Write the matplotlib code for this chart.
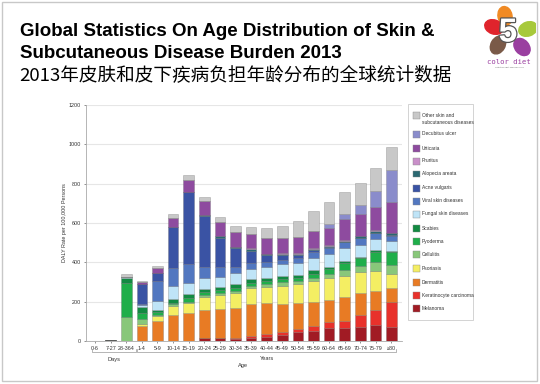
import matplotlib
matplotlib.use("Agg")
import matplotlib.pyplot as plt
import numpy as np
from matplotlib.patches import Rectangle, Ellipse
import matplotlib.patheffects as pe
from matplotlib import font_manager

categories = ["0-6", "7-27", "28-364", "1-4", "5-9", "10-14", "15-19", "20-24", "25-29",
              "30-34", "35-39", "40-44", "45-49", "50-54", "55-59", "60-64", "65-69",
              "70-74", "75-79", "≥80"]

melanoma   = [0, 0, 0, 0, 0, 0, 2, 17, 14, 12, 17, 22, 31, 44, 51, 64, 64, 73, 81, 71]
keratinocyte = [0, 0, 0, 0, 0, 0, 0, 0, 0, 5, 10, 12, 13, 15, 25, 31, 38, 59, 77, 126]
dermatitis = [0, 0, 0, 76, 103, 132, 142, 139, 149, 152, 161, 158, 144, 133, 124, 113, 120, 110, 98, 74]
psoriasis  = [0, 0, 0, 12, 26, 48, 47, 69, 71, 77, 83, 85, 93, 96, 107, 111, 109, 111, 102, 70]
cellulitis = [1, 6, 124, 24, 5, 6, 9, 9, 10, 8, 10, 13, 17, 17, 12, 20, 30, 30, 45, 45]
pyoderma   = [0, 0, 170, 29, 12, 5, 17, 17, 17, 14, 12, 17, 17, 17, 20, 27, 34, 37, 48, 65]
scabies    = [0, 0, 27, 30, 12, 22, 20, 13, 12, 24, 22, 15, 17, 14, 22, 12, 12, 9, 12, 8]
fungal     = [0, 0, 3, 12, 45, 67, 56, 55, 54, 52, 51, 56, 58, 62, 63, 63, 64, 59, 56, 51]
viral      = [0, 0, 0, 3, 102, 93, 97, 59, 51, 34, 29, 25, 22, 22, 27, 30, 31, 34, 28, 26]
acne       = [0, 0, 0, 102, 42, 205, 366, 260, 147, 93, 63, 34, 25, 17, 12, 5, 3, 3, 3, 3]
alopecia   = [0, 0, 0, 0, 0, 0, 3, 3, 7, 9, 8, 7, 5, 5, 6, 6, 6, 8, 11, 8]
pruritus   = [0, 0, 0, 0, 0, 0, 0, 0, 0, 0, 5, 0, 3, 4, 3, 4, 4, 3, 3, 3]
urticaria  = [0, 0, 0, 10, 22, 46, 60, 71, 75, 76, 71, 78, 80, 85, 87, 90, 104, 111, 119, 155]
decubitus  = [0, 0, 0, 0, 0, 0, 0, 0, 0, 0, 0, 0, 0, 0, 0, 17, 26, 42, 80, 164]
other      = [0, 0, 15, 7, 12, 22, 25, 22, 25, 27, 36, 51, 58, 81, 102, 115, 111, 116, 118, 116]

series_names = ["Melanoma", "Keratinocyte carcinoma", "Dermatitis", "Psoriasis", "Cellulitis",
                "Pyoderma", "Scabies", "Fungal skin diseases", "Viral skin diseases",
                "Acne vulgaris", "Alopecia areata", "Pruritus", "Urticaria",
                "Decubitus ulcer", "Other skin and\nsubcutaneous diseases"]
series_values = [melanoma, keratinocyte, dermatitis, psoriasis, cellulitis, pyoderma, scabies,
                 fungal, viral, acne, alopecia, pruritus, urticaria, decubitus, other]
colors = ["#a11b24", "#e8312b", "#e87b24", "#f4ee63", "#88c77a", "#1fae4a", "#138a42",
          "#bfe4f7", "#5277c0", "#3a53a4", "#2b6871", "#c98fc9", "#8e4b9f", "#8a8ccb", "#c8c8c8"]

installed = {f.name for f in font_manager.fontManager.ttflist}
if "Liberation Sans Narrow" in installed:
    SMALL = "Liberation Sans Narrow"
    sz = 4.6
else:
    SMALL = "Liberation Sans"
    sz = 3.9

W, H = 540, 384
fig = plt.figure(figsize=(W / 100, H / 100), dpi=100)
fig.patch.set_facecolor("white")

def fx(px):
    return px / W

def fy(py):
    return 1 - py / H

# slide border
fig.add_artist(Rectangle((fx(2), fy(381)), fx(535), (379) / H, transform=fig.transFigure,
                         fill=False, edgecolor="#c8c8c8", linewidth=1.0))

# titles
fig.text(fx(20), fy(31), "Global Statistics On Age Distribution of Skin &",
         fontsize=13.5, fontweight="bold", family="Liberation Sans", va="center", ha="left")
fig.text(fx(20), fy(53), "Subcutaneous Disease Burden 2013",
         fontsize=13.5, fontweight="bold", family="Liberation Sans", va="center", ha="left")
fig.text(fx(19), fy(75), "2013年皮肤和皮下疾病负担年龄分布的全球统计数据",
         fontsize=13.4, family=["Noto Sans CJK SC", "DejaVu Sans"], va="center", ha="left")

# logo
lax = fig.add_axes([fx(482), fy(72), fx(54), 67 / H])
lax.set_xlim(0, 54)
lax.set_ylim(67, 0)
lax.axis("off")
petals = [((23, 11), -10, "#f08a24"), ((46, 24), 70, "#a7c93b"), ((40, 42), 140, "#9a3fa0"),
          ((16, 40), 210, "#7a5a48"), ((12, 22), 290, "#e0242c")]
for (cx, cy), ang, c in petals:
    lax.add_patch(Ellipse((cx, cy), 14, 19, angle=ang, color=c))
lax.text(26, 28, "5", fontsize=24, fontweight="bold", color="white", ha="center", va="center",
         family="Liberation Sans",
         path_effects=[pe.withStroke(linewidth=1.8, foreground="#555555")])
lax.text(27, 57, "color diet", fontsize=5.2, color="#9a3fa0", ha="center", va="center",
         family="DejaVu Sans Mono")
lax.text(27, 62.5, "nutrition diet wellness life", fontsize=1.6, color="#666666",
         ha="center", va="center")

# main axes
ax = fig.add_axes([fx(86), fy(341), fx(402 - 86), 236 / H])
x = np.arange(len(categories))
bottom = np.zeros(len(categories))
for name, vals, c in zip(series_names, series_values, colors):
    v = np.array(vals, dtype=float)
    ax.bar(x, v, 0.68, bottom=bottom, color=c, edgecolor=(0.35, 0.35, 0.35, 0.45),
           linewidth=0.4, zorder=3)
    bottom += v

ax.set_xlim(-0.58, 19.68)
ax.set_ylim(0, 1200)
ax.set_yticks(np.arange(0, 1201, 200))
ax.grid(axis="y", color="#e6e6e6", linewidth=0.8, zorder=0)
ax.set_xticks(x)
ax.set_xticklabels(categories)
for lab in ax.get_xticklabels() + ax.get_yticklabels():
    lab.set_fontfamily([SMALL, "DejaVu Sans"])
    lab.set_fontsize(sz)
    lab.set_color("#333333")
ax.tick_params(axis="both", length=1.5, width=0.5, pad=2, colors="#666666", labelcolor="#333333")
for s in ["top", "right"]:
    ax.spines[s].set_visible(False)
for s in ["left", "bottom"]:
    ax.spines[s].set_color("#aaaaaa")
    ax.spines[s].set_linewidth(0.6)
ax.set_ylabel("DALY Rate per 100,000 Persons", fontsize=sz, color="#333333",
              family=SMALL, labelpad=1)

# Days / Years brackets
def bracket(x0, x1, y, label, ty):
    fig.add_artist(plt.Line2D([fx(x0), fx(x0), fx(x1), fx(x1)],
                              [fy(y - 3), fy(y), fy(y), fy(y - 3)],
                              transform=fig.transFigure, color="#999999", linewidth=0.5))
    fig.text(fx((x0 + x1) / 2 if label == "Days" else 267), fy(ty), label, fontsize=sz + 0.2,
             ha="center", va="center", family=SMALL, color="#333333")

bracket(92, 136, 352, "Days", 359)
bracket(137, 396, 352, "Years", 358)
fig.text(fx(243), fy(365), "Age", fontsize=sz + 0.2, ha="center", va="center",
         family=SMALL, color="#333333")

# legend
fig.add_artist(Rectangle((fx(408), fy(320)), fx(65), (320 - 104) / H, transform=fig.transFigure,
                         fill=False, edgecolor="#cccccc", linewidth=0.6))
leg_y = [115, 134, 148, 161, 174, 188, 201, 214, 228, 241, 254, 268, 282, 295, 308]
order = list(range(len(series_names)))[::-1]
for yy, i in zip(leg_y, order):
    fig.add_artist(Rectangle((fx(413), fy(yy + 3.5)), fx(7), 7 / H, transform=fig.transFigure,
                             facecolor=colors[i], edgecolor="#888888", linewidth=0.3))
    ty = yy + 4 if i == len(series_names) - 1 else yy
    fig.text(fx(422), fy(ty), series_names[i], fontsize=sz - 0.4, ha="left", va="center",
             family=SMALL, color="#333333", linespacing=1.5)

fig.savefig("out.png", dpi=100)
